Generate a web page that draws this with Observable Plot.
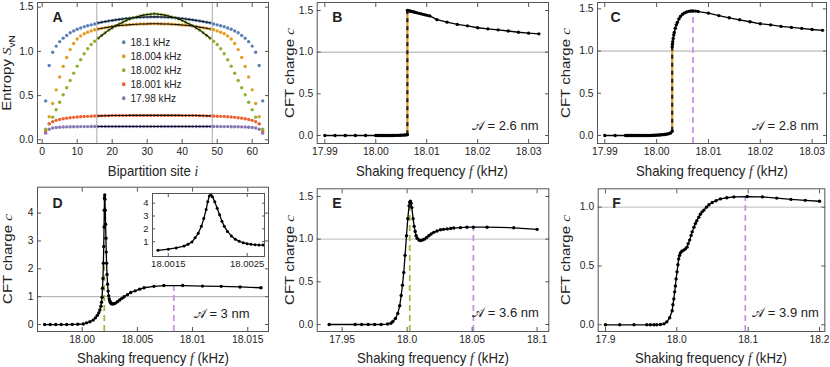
<!DOCTYPE html>
<html><head><meta charset="utf-8">
<script src="https://cdn.jsdelivr.net/npm/d3@7"></script>
<script src="https://cdn.jsdelivr.net/npm/@observablehq/plot@0.6"></script>
<style>
body{margin:0;background:#fff;font-family:"Liberation Sans",Arial,sans-serif;}
#fig{position:relative;width:830px;height:367px;overflow:hidden;background:#fff;}
.lab{position:absolute;white-space:nowrap;color:#222;font-size:15px;line-height:1;}
.var{font-family:"Liberation Serif","DejaVu Serif",serif;font-style:italic;}
.leg{position:absolute;white-space:nowrap;color:#222;font-size:11.5px;line-height:1;transform-origin:left center;transform:translateY(-50%) scaleX(0.88);}
.leg span.m{display:inline-block;width:3.6px;height:3.6px;border-radius:50%;margin-right:6px;vertical-align:middle;position:relative;top:-1px;}
</style></head><body><div id="fig"></div><script>
// ---------- Panel A: entanglement entropy vs bipartition site ----------
const aSites = [1,2,3,4,5,6,7,8,9,10,11,12,13,14,15,16,17,18,19,20,21,22,23,24,25,26,27,28,29,30,31,32,33,34,35,36,37,38,39,40,41,42,43,44,45,46,47,48,49,50,51,52,53,54,55,56,57,58,59,60,61,62,63];
const aLabels = ["18.1 kHz","18.004 kHz","18.002 kHz","18.001 kHz","17.98 kHz"];
const aColors = ["#5e81b5","#e19c24","#8fb032","#eb6235","#8778b3"];
const aBlue = [0.44,0.84,0.99,1.06,1.11,1.15,1.18,1.21,1.23,1.25,1.265,1.28,1.29,1.30,1.31,1.322,1.33,1.337,1.344,1.35,1.356,1.362,1.367,1.372,1.376,1.38,1.383,1.386,1.388,1.389,1.39,1.39,
  1.39,1.389,1.388,1.386,1.383,1.38,1.376,1.372,1.367,1.362,1.356,1.35,1.344,1.337,1.33,1.322,1.31,1.30,1.29,1.28,1.265,1.25,1.23,1.21,1.18,1.15,1.11,1.06,0.99,0.84,0.44];
const aOrange = [0.11,0.26,0.41,0.565,0.71,0.83,0.93,1.02,1.09,1.14,1.175,1.20,1.217,1.232,1.244,1.253,1.261,1.268,1.274,1.283,1.288,1.292,1.296,1.299,1.302,1.305,1.307,1.309,1.31,1.311,1.312,1.312,
  1.312,1.311,1.31,1.309,1.307,1.305,1.302,1.299,1.296,1.292,1.288,1.283,1.274,1.268,1.261,1.253,1.244,1.232,1.217,1.20,1.175,1.14,1.09,1.02,0.93,0.83,0.71,0.565,0.41,0.26,0.11];
const aGreen = [0.12,0.18,0.256,0.339,0.425,0.509,0.588,0.671,0.754,0.833,0.905,0.973,1.029,1.078,1.115,1.149,1.18,1.21,1.24,1.265,1.29,1.31,1.33,1.35,1.365,1.38,1.39,1.40,1.41,1.418,1.422,1.425,
  1.422,1.418,1.41,1.40,1.39,1.38,1.365,1.35,1.33,1.31,1.29,1.265,1.24,1.21,1.18,1.149,1.115,1.078,1.029,0.973,0.905,0.833,0.754,0.671,0.588,0.509,0.425,0.339,0.256,0.18,0.12];
const aRed = [0.09,0.18,0.205,0.22,0.23,0.238,0.245,0.25,0.254,0.258,0.261,0.263,0.265,0.267,0.269,0.27,0.271,0.272,0.273,0.274,0.274,0.275,0.275,0.275,0.276,0.276,0.276,0.276,0.276,0.276,0.276,0.276,
  0.276,0.276,0.276,0.276,0.276,0.276,0.276,0.275,0.275,0.275,0.274,0.274,0.273,0.272,0.271,0.27,0.269,0.267,0.265,0.263,0.261,0.258,0.254,0.25,0.245,0.238,0.23,0.22,0.205,0.18,0.09];
const aPurple = [0.075,0.12,0.133,0.139,0.142,0.144,0.146,0.147,0.148,0.148,0.149,0.149,0.149,0.15,0.15,0.15,0.15,0.15,0.15,0.15,0.15,0.15,0.15,0.15,0.15,0.15,0.15,0.15,0.15,0.15,0.15,0.15,
  0.15,0.15,0.15,0.15,0.15,0.15,0.15,0.15,0.15,0.15,0.15,0.15,0.15,0.15,0.15,0.15,0.15,0.15,0.149,0.149,0.149,0.148,0.148,0.147,0.146,0.144,0.142,0.139,0.133,0.12,0.075];
const aSeries = [aBlue, aOrange, aGreen, aRed, aPurple];
const aCuts = [15.6, 48.6];
const aFitRange = [16, 48];

// ---------- Panel B (A = 2.6 nm) ----------
const bLowX = [17.99,17.992,17.994,17.996,17.998,18.0,18.0003,18.0006,18.0009,18.0012,18.0015,18.0018,18.0021,18.0024,18.0027,18.003,18.0033,18.0036,18.0039,18.0042,18.0045,18.0048,18.0051,18.0054,18.0057,18.006,18.0062];
const bLowC = [0,0,0,0,0,0,0,0,0,0,0,0,0,0,0,0,0,0.001,0.001,0.002,0.002,0.003,0.004,0.005,0.006,0.008,0.01];
const bHighX = [18.0062,18.0064,18.0066,18.0068,18.007,18.0072,18.0075,18.0078,18.0081,18.0085,18.0089,18.0093,18.0097,18.0101,18.0106,18.012,18.014,18.016,18.018,18.02,18.022,18.024,18.026,18.028,18.03,18.032];
const bHighC = [1.50,1.498,1.495,1.492,1.489,1.486,1.482,1.477,1.472,1.466,1.46,1.454,1.448,1.442,1.435,1.39,1.36,1.333,1.316,1.293,1.28,1.268,1.254,1.239,1.228,1.22];

// ---------- Panel C (A = 2.8 nm) ----------
const cLowX = [17.99,17.992,17.994,17.9943,17.9946,17.9949,17.9952,17.9955,17.9958,17.9961,17.9964,17.9967,17.997,17.9973,17.9976,17.9979,17.9982,17.9985,17.9988,17.9991,17.9994,17.9997,18.0,18.0003,18.0006,18.0009,18.0012,18.0015,18.0018,18.0021,18.0024,18.0027,18.003];
const cLowC = [0,0,0,0,0,0,0,0,0,0,0,0,0,0,0,0,0,0,0,0.001,0.002,0.003,0.004,0.005,0.006,0.008,0.01,0.012,0.015,0.018,0.022,0.03,0.05];
const cHighX = [18.003,18.00305,18.0031,18.0032,18.0033,18.0034,18.0036,18.0038,18.004,18.0043,18.0046,18.005,18.0054,18.0058,18.0062,18.0066,18.007,18.0075,18.008,18.01,18.012,18.014,18.016,18.018,18.02,18.022,18.024,18.026,18.028,18.03,18.032];
const cHighC = [1.05,1.08,1.11,1.15,1.19,1.22,1.27,1.31,1.34,1.38,1.41,1.435,1.452,1.463,1.47,1.474,1.475,1.473,1.468,1.449,1.42,1.394,1.37,1.347,1.323,1.31,1.292,1.28,1.268,1.255,1.245];
const cPeakX = [18.007];

// ---------- Panel D (A = 3 nm) ----------
const dX = [17.9966,17.9971,17.9976,17.9981,17.9986,17.9991,17.9996,18.0001,18.0004,18.0007,18.001,18.0012,18.00137,18.0015,18.0016,18.0017,18.00175,18.0018,18.00184,18.00188,18.00192,18.00195,18.00198,18.002,18.00202,18.00204,18.00206,18.00209,18.00212,18.00215,18.00218,18.00221,18.00225,18.0023,18.00235,18.0024,18.00245,18.0025,18.00255,18.0026,18.00265,18.0027,18.0028,18.0029,18.003,18.0032,18.0034,18.0036,18.0038,18.0041,18.0044,18.0048,18.0052,18.0056,18.0065,18.0074,18.0091,18.0109,18.0126,18.0143,18.0162];
const dC = [0,0,0,0,0,0.005,0.01,0.02,0.06,0.1,0.16,0.24,0.33,0.42,0.52,0.66,0.8,0.98,1.3,1.65,2.2,2.8,3.5,4.1,4.55,4.65,4.5,4.1,3.6,3.1,2.6,2.2,1.8,1.45,1.2,1.03,0.92,0.85,0.8,0.77,0.75,0.74,0.74,0.75,0.77,0.82,0.88,0.94,1.0,1.07,1.15,1.21,1.27,1.32,1.37,1.40,1.40,1.38,1.37,1.35,1.32];
const dGreenX = [18.002], dGreenTop = [2.1];
const dPurpleX = [18.0083];
const dInsetRange = [18.0013, 18.00272];

// ---------- Panel E (A = 3.6 nm) ----------
const eX = [17.94,17.96,17.965,17.97,17.975,17.98,17.985,17.9875,17.989,17.991,17.9928,17.9943,17.9954,17.9964,17.9974,17.9984,17.9995,18.0005,18.0015,18.002,18.0025,18.003,18.0036,18.0046,18.0054,18.0062,18.0069,18.0077,18.009,18.0103,18.0118,18.0133,18.015,18.0167,18.0185,18.0205,18.023,18.0256,18.028,18.0308,18.0335,18.0359,18.041,18.046,18.051,18.0615,18.082,18.1];
const eC = [0,0,0,0,0,0,0.005,0.015,0.035,0.07,0.13,0.22,0.34,0.46,0.61,0.81,1.04,1.24,1.39,1.43,1.445,1.42,1.37,1.24,1.15,1.09,1.04,1.01,0.99,0.985,0.99,1.0,1.02,1.04,1.06,1.08,1.095,1.11,1.115,1.12,1.125,1.13,1.135,1.14,1.14,1.14,1.133,1.115];
const eGreenX = [18.002];
const ePurpleX = [18.051];

// ---------- Panel F (A = 3.9 nm) ----------
const fX = [17.9,17.92,17.94,17.958,17.963,17.968,17.972,17.977,17.982,17.986,17.99,17.9935,17.9945,17.9958,17.997,17.998,17.999,18.0003,18.0015,18.0026,18.0038,18.005,18.007,18.0097,18.012,18.0143,18.016,18.018,18.02,18.0215,18.024,18.026,18.028,18.0308,18.033,18.0355,18.038,18.0416,18.045,18.0496,18.055,18.061,18.07,18.08,18.0987,18.12,18.14,18.16,18.18,18.2];
const fC = [0,0,0,0,0,0,0,0.003,0.008,0.025,0.06,0.12,0.17,0.22,0.28,0.33,0.39,0.45,0.51,0.56,0.59,0.61,0.625,0.635,0.645,0.66,0.69,0.72,0.76,0.79,0.83,0.86,0.885,0.915,0.94,0.96,0.975,1.0,1.02,1.04,1.055,1.07,1.08,1.087,1.09,1.087,1.077,1.066,1.058,1.05];
const fPurpleX = [18.096];

// ---------- Labels / ticks ----------
const panelLetters = ["A","B","C","D","E","F"];
const amplitudes = ["2.6","2.8","3","3.6","3.9"];
const cftRef = [1];
const aXTicks = [0,10,20,30,40,50,60], aYTicks = [0,0.5,1,1.5];
const bcXTicks = [17.99,18.0,18.01,18.02,18.03], bcYTicks = [0,0.5,1,1.5];
const dXTicks = [18.0,18.005,18.01,18.015], dXLabels = ["18.00","18.005","18.01","18.015"], dYTicks = [0,1,2,3,4];
const insetXTicks = [18.0015,18.0025], insetXLabels = ["18.0015","18.0025"], insetYTicks = [1,2,3,4];
const eXTicks = [17.95,18.0,18.05,18.1], eXLabels = ["17.95","18.0","18.05","18.1"], eYTicks = [0,0.5,1,1.5];
const fXTicks = [17.9,18.0,18.1,18.2], fYTicks = [0,0.5,1];

// ---------- helpers ----------
const INK = "#222", FRAME = "#555";
const ORANGE = "#e19c24", GREEN = "#9ab83a", PURPLE = "#c98de6";
const fig = document.getElementById("fig");
const tbl = (xs, cs) => xs.map((x, k) => ({x, c: cs[k]}));
const f1 = d3.format(".1f"), f2 = d3.format(".2f");
const lookup = (ticks, labels) => d => labels[ticks.findIndex(t => Math.abs(t - d) < 1e-9)];

function frameAxes(xt, yt, xf, yf, fs = 10.3, tk = 4) {
  return [
    Plot.frame({stroke: FRAME, strokeWidth: 1}),
    Plot.axisX(xt, {anchor: "bottom", tickSize: tk, dy: -tk, fill: "none", label: null, stroke: FRAME}),
    Plot.axisX(xt, {anchor: "top", tickSize: tk, dy: tk, fill: "none", label: null, stroke: FRAME}),
    Plot.axisY(yt, {anchor: "left", tickSize: tk, dx: tk, fill: "none", label: null, stroke: FRAME}),
    Plot.axisY(yt, {anchor: "right", tickSize: tk, dx: -tk, fill: "none", label: null, stroke: FRAME}),
    Plot.axisX(xt, {anchor: "bottom", tickSize: 0, tickPadding: 4, tickFormat: xf, label: null, fill: INK, fontSize: fs}),
    Plot.axisY(yt, {anchor: "left", tickSize: 0, tickPadding: 4, tickFormat: yf, label: null, fill: INK, fontSize: fs})
  ];
}
function place(svg, left, top) {
  svg.style.position = "absolute";
  svg.style.left = left + "px";
  svg.style.top = top + "px";
  fig.appendChild(svg);
}
function plotBase(o) {
  return Plot.plot({
    width: o.w, height: o.h,
    marginTop: o.m[0], marginRight: o.m[1], marginBottom: o.m[2], marginLeft: o.m[3],
    style: {fontFamily: "'Liberation Sans', Arial, sans-serif", fontSize: "10px", color: INK, background: "transparent", overflow: "visible"},
    x: {domain: o.x}, y: {domain: o.y}, color: o.color,
    marks: o.marks
  });
}
const letter = (L, dx, dy) => Plot.text([L], {text: d => d, frameAnchor: "top-left", dx, dy, textAnchor: "start", lineAnchor: "middle", fontWeight: "bold", fontSize: 14, fill: INK});
const ampText = (a, dx, dy) => Plot.text([a], {text: d => `𝒜 = ${d} nm`, frameAnchor: "bottom-right", dx, dy, textAnchor: "end", lineAnchor: "middle", fontSize: 13, fill: INK});
const curve = (data) => [
  Plot.line(data, {x: "x", y: "c", stroke: "#000", strokeWidth: 1.3}),
  Plot.dot(data, {x: "x", y: "c", r: 1.7, fill: "#000", stroke: "none"})
];
const dashed = (xs, y1, y2, color) => Plot.ruleX(xs, {x: d => d, y1, y2, stroke: color, strokeWidth: 1.7, strokeDasharray: "6,4"});

// ---------- Panel A ----------
const aData = aSeries.flatMap((vals, k) => aSites.map((i, j) => ({i, s: vals[j], f: aLabels[k]})));
const aDomY = [-0.042, 1.553];
place(plotBase({
  w: 278, h: 180, m: [2, 10, 37, 37], x: [-1.34, 64.66], y: aDomY,
  color: {domain: aLabels, range: aColors},
  marks: [
    Plot.ruleX(aCuts, {stroke: "#aaa", strokeWidth: 1}),
    Plot.dot(aData, {x: "i", y: "s", fill: "f", r: 1.7, stroke: "none"}),
    Plot.line(aData.filter(d => d.i >= aFitRange[0] && d.i <= aFitRange[1]), {x: "i", y: "s", z: "f", stroke: "#111", strokeWidth: 1.1, curve: "natural"}),
    letter(panelLetters[0], 15, 15),
    ...frameAxes(aXTicks, aYTicks, d => d, f1)
  ]
}), 0, 0);

// ---------- Panel B ----------
const bLow = tbl(bLowX, bLowC), bHigh = tbl(bHighX, bHighC);
place(plotBase({
  w: 277, h: 180, m: [2, 7, 37, 38.7], x: [17.9885, 18.0339], y: [-0.096, 1.596],
  marks: [
    Plot.ruleY(cftRef, {stroke: "#aaa"}),
    Plot.ruleX([bHighX[0]], {x: d => d, y1: bLowC[bLowC.length - 1], y2: bHighC[0], stroke: ORANGE, strokeWidth: 2.2}),
    Plot.ruleX([bHighX[0]], {x: d => d, y1: bLowC[bLowC.length - 1], y2: bHighC[0], stroke: "#222", strokeWidth: 2.2, strokeDasharray: "4,4"}),
    ...curve(bLow), ...curve(bHigh),
    letter(panelLetters[1], 15, 15),
    ampText(amplitudes[0], -10, -18),
    ...frameAxes(bcXTicks, bcYTicks, f2, f1)
  ]
}), 278, 0);

// ---------- Panel C ----------
const cLow = tbl(cLowX, cLowC), cHigh = tbl(cHighX, cHighC);
const cDomY = [-0.095, 1.575];
place(plotBase({
  w: 275, h: 180, m: [2, 4, 37, 42], x: [17.98859, 18.03277], y: cDomY,
  marks: [
    Plot.ruleY(cftRef, {stroke: "#aaa"}),
    dashed(cPeakX, cDomY[0], d3.max(cHighC), PURPLE),
    Plot.ruleX([cHighX[0]], {x: d => d, y1: cLowC[cLowC.length - 1], y2: cHighC[0], stroke: ORANGE, strokeWidth: 2.2}),
    Plot.ruleX([cHighX[0]], {x: d => d, y1: cLowC[cLowC.length - 1], y2: cHighC[0], stroke: "#222", strokeWidth: 2.2, strokeDasharray: "4,4"}),
    ...curve(cLow), ...curve(cHigh),
    letter(panelLetters[2], 13, 15),
    ampText(amplitudes[1], -8, -18),
    ...frameAxes(bcXTicks, bcYTicks, f2, f1)
  ]
}), 555, 0);

// ---------- Panel D ----------
const dData = tbl(dX, dC);
const dDomY = [-0.25, 4.93];
place(plotBase({
  w: 278, h: 187, m: [6.7, 10, 36, 37], x: [17.99595, 18.01688], y: dDomY,
  marks: [
    Plot.ruleY(cftRef, {stroke: "#aaa"}),
    dashed(dGreenX, dDomY[0], dGreenTop[0], GREEN),
    dashed(dPurpleX, dDomY[0], d3.max(dC.slice(50)), PURPLE),
    ...curve(dData),
    letter(panelLetters[3], 15, 16.7),
    ampText(amplitudes[2], -19, -18),
    ...frameAxes(dXTicks, dYTicks, lookup(dXTicks, dXLabels), d => d)
  ]
}), 0, 180);

// inset of D
const dInset = dData.filter(d => d.x >= dInsetRange[0] && d.x <= dInsetRange[1]);
place(plotBase({
  w: 145, h: 90, m: [7, 6, 20, 27], x: dInsetRange, y: [-0.15, 4.75],
  marks: [
    Plot.frame({fill: "#fff", stroke: "none"}),
    Plot.line(dInset, {x: "x", y: "c", stroke: "#000", strokeWidth: 1.3}),
    Plot.dot(dInset, {x: "x", y: "c", r: 1.5, fill: "#000", stroke: "none"}),
    ...frameAxes(insetXTicks, insetYTicks, lookup(insetXTicks, insetXLabels), d => d, 9.5, 3)
  ]
}), 125, 186);

// ---------- Panel E ----------
const eData = tbl(eX, eC);
const eDomY = [-0.082, 1.59];
place(plotBase({
  w: 277, h: 187, m: [8.3, 6.7, 36, 38.7], x: [17.9308, 18.109], y: eDomY,
  marks: [
    Plot.ruleY(cftRef, {stroke: "#bbb"}),
    dashed(eGreenX, eDomY[0], d3.max(eC), GREEN),
    dashed(ePurpleX, eDomY[0], d3.max(eC.slice(30)), PURPLE),
    ...curve(eData),
    letter(panelLetters[4], 15, 15),
    ampText(amplitudes[3], -10, -19),
    ...frameAxes(eXTicks, eYTicks, lookup(eXTicks, eXLabels), f1)
  ]
}), 278, 180);

// ---------- Panel F ----------
const fData = tbl(fX, fC);
const fDomY = [-0.057, 1.156];
place(plotBase({
  w: 275, h: 187, m: [8.3, 5.7, 36, 42.7], x: [17.8898, 18.2074], y: fDomY,
  marks: [
    Plot.ruleY(cftRef, {stroke: "#bbb"}),
    dashed(fPurpleX, fDomY[0], d3.max(fC), PURPLE),
    ...curve(fData),
    letter(panelLetters[5], 14, 15),
    ampText(amplitudes[4], -6, -19),
    ...frameAxes(fXTicks, fYTicks, f1, f1)
  ]
}), 555, 180);

// ---------- axis titles (HTML) ----------
function title(html, x, y, vertical) {
  const d = document.createElement("div");
  d.className = "lab";
  d.innerHTML = html;
  d.style.left = x + "px"; d.style.top = y + "px";
  d.style.transform = vertical ? "translate(-50%,-50%) rotate(-90deg) scaleY(0.88)" : "translate(-50%,-50%) scaleX(0.88)";
  fig.appendChild(d);
}
const yTitleCFT = 'CFT charge <span class="var">c</span>';
const xTitleF = 'Shaking frequency <span class="var">f</span> (kHz)';
title('Entropy <span class="var">S</span><sub style="font-size:10px">vN</sub>', 8, 72.5, true);
title('Bipartition site <span class="var">i</span>', 152.5, 171, false);
title(yTitleCFT, 289.5, 72.5, true);
title(xTitleF, 432.3, 171, false);
title(yTitleCFT, 565.5, 72.5, true);
title(xTitleF, 711.5, 171, false);
title(yTitleCFT, 8, 258.8, true);
title(xTitleF, 152.5, 358, false);
title(yTitleCFT, 289.5, 259.6, true);
title(xTitleF, 432.5, 358, false);
title(yTitleCFT, 565.5, 259.6, true);
title(xTitleF, 711, 358, false);

// ---------- legend of panel A (HTML) ----------
aLabels.forEach((lab, k) => {
  const d = document.createElement("div");
  d.className = "leg";
  d.style.left = "122px";
  d.style.top = (43.3 + k * 13.9) + "px";
  d.innerHTML = `<span class="m" style="background:${aColors[k]}"></span>${lab}`;
  fig.appendChild(d);
});
</script></body></html>
